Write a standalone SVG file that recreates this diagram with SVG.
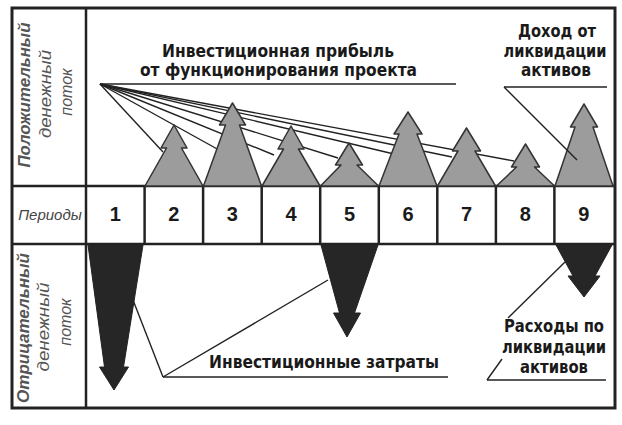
<svg xmlns="http://www.w3.org/2000/svg" width="622" height="425" viewBox="0 0 622 425">
<style>
.frame{fill:none;stroke:#222;stroke-width:3}
.grid{stroke:#222;stroke-width:2.5;fill:none}
.up{fill:#9c9c9c;stroke:#333;stroke-width:1.5;stroke-linejoin:round}
.down{fill:#262626;stroke:#222;stroke-width:1}
.lead{stroke:#222;stroke-width:1.4;fill:none}
.lbl{font-family:"Liberation Sans Narrow","DejaVu Sans Condensed","Liberation Sans",sans-serif;font-weight:bold;font-size:18px;fill:#1a1a1a;text-anchor:middle}
.num{font-family:"Liberation Sans",Arial,sans-serif;font-weight:bold;font-size:20px;fill:#1a1a1a;text-anchor:middle}
.side{font-family:"Liberation Sans",Arial,sans-serif;font-style:italic;font-size:16px;fill:#555;text-anchor:middle}
.per{font-family:"Liberation Sans",Arial,sans-serif;font-style:italic;font-size:15px;fill:#444;text-anchor:middle}
</style>
<rect width="622" height="425" fill="#fff"/>
<g id="frame">
<rect class="frame" x="12" y="8" width="603" height="400"/>
<line class="grid" x1="86" y1="8" x2="86" y2="408"/>
<line class="grid" x1="12" y1="186" x2="615" y2="186"/>
<line class="grid" x1="12" y1="244" x2="615" y2="244"/>
</g>
<g id="side-labels">
<g transform="translate(30,95) rotate(-90)"><text class="side" x="0" y="0" font-weight="bold" textLength="145" lengthAdjust="spacingAndGlyphs">Положительный</text></g>
<g transform="translate(51,94) rotate(-90)"><text class="side" x="0" y="0" textLength="88" lengthAdjust="spacingAndGlyphs">денежный</text></g>
<g transform="translate(72,92) rotate(-90)"><text class="side" x="0" y="0">поток</text></g>
<g transform="translate(29,328) rotate(-90)"><text class="side" x="0" y="0" font-weight="bold" textLength="150" lengthAdjust="spacingAndGlyphs">Отрицательный</text></g>
<g transform="translate(49,327) rotate(-90)"><text class="side" x="0" y="0" textLength="89" lengthAdjust="spacingAndGlyphs">денежный</text></g>
<g transform="translate(71,322) rotate(-90)"><text class="side" x="0" y="0">поток</text></g>
</g>
<g id="connectors">
<line class="lead" x1="100" y1="84" x2="456" y2="84"/>
<line class="lead" x1="100" y1="84" x2="163" y2="152"/>
<line class="lead" x1="100" y1="84" x2="219" y2="150"/>
<line class="lead" x1="100" y1="84" x2="274" y2="155"/>
<line class="lead" x1="100" y1="84" x2="338" y2="158"/>
<line class="lead" x1="100" y1="84" x2="394" y2="154"/>
<line class="lead" x1="100" y1="84" x2="452" y2="157"/>
<line class="lead" x1="100" y1="84" x2="514" y2="161"/>
</g>
<g id="periods">
<text class="per" x="50" y="220">Периоды</text>
<g class="grid">
<line x1="144.6" y1="186" x2="144.6" y2="244"/>
<line x1="203.1" y1="186" x2="203.1" y2="244"/>
<line x1="261.7" y1="186" x2="261.7" y2="244"/>
<line x1="320.2" y1="186" x2="320.2" y2="244"/>
<line x1="378.8" y1="186" x2="378.8" y2="244"/>
<line x1="437.3" y1="186" x2="437.3" y2="244"/>
<line x1="495.9" y1="186" x2="495.9" y2="244"/>
<line x1="554.4" y1="186" x2="554.4" y2="244"/>
</g>
<text class="num" x="115.3" y="221">1</text>
<text class="num" x="173.9" y="221">2</text>
<text class="num" x="232.4" y="221">3</text>
<text class="num" x="291" y="221">4</text>
<text class="num" x="349.5" y="221">5</text>
<text class="num" x="408" y="221">6</text>
<text class="num" x="466.6" y="221">7</text>
<text class="num" x="525.2" y="221">8</text>
<text class="num" x="583.7" y="221">9</text>
</g>
<g id="inflows">
<polygon class="up" points="145,186 166.5,148 161,148 174,125 187,148 181.5,148 203,186"/>
<polygon class="up" points="203.5,186 225.5,125 219.5,125 232.5,103 245.5,125 239.5,125 261.5,186"/>
<polygon class="up" points="262,186 283.5,149 278,149 291,126 304,149 298.5,149 320,186"/>
<polygon class="up" points="320.5,186 341,165 335.5,165 349,143 362.5,165 357,165 378.5,186"/>
<polygon class="up" points="379,186 399,134 394,134 408,112 422,134 417,134 437,186"/>
<polygon class="up" points="437.5,186 458,151 452.5,151 466.5,128 480.5,151 475,151 495.5,186"/>
<polygon class="up" points="496.5,186 516.5,167 511.5,167 525.5,144 539.5,167 534.5,167 554.5,186"/>
<polygon class="up" points="555,186 575,127 570.5,127 584,104 597.5,127 593,127 613,186"/>
</g>
<g id="outflows">
<polygon class="down" points="88,245 143,245 123.5,367 128.5,367 114,390 99.5,367 104.5,367"/>
<polygon class="down" points="321,245 378,245 354.5,313 360.5,313 347,337 333.5,313 339.5,313"/>
<polygon class="down" points="556,245 612,245 595,276 600,276 584,297 568,276 573,276"/>
</g>
<g id="label-income">
<text class="lbl" x="278" y="57" textLength="232" lengthAdjust="spacingAndGlyphs">Инвестиционная прибыль</text>
<text class="lbl" x="278.5" y="76" textLength="277" lengthAdjust="spacingAndGlyphs">от функционирования проекта</text>
</g>
<g id="label-liq-income">
<text class="lbl" x="557" y="37" textLength="78" lengthAdjust="spacingAndGlyphs">Доход от</text>
<text class="lbl" x="555" y="57" textLength="103" lengthAdjust="spacingAndGlyphs">ликвидации</text>
<text class="lbl" x="556" y="76" textLength="70" lengthAdjust="spacingAndGlyphs">активов</text>
<line class="lead" x1="504" y1="87" x2="607" y2="87"/>
<line class="lead" x1="504" y1="87" x2="577" y2="160"/>
</g>
<g id="label-invest">
<text class="lbl" x="324" y="368" textLength="230" lengthAdjust="spacingAndGlyphs">Инвестиционные затраты</text>
<line class="lead" x1="163" y1="377" x2="448" y2="377"/>
<line class="lead" x1="163" y1="377" x2="133" y2="300"/>
<line class="lead" x1="163" y1="377" x2="328" y2="280"/>
</g>
<g id="label-liq-cost">
<text class="lbl" x="554" y="332" textLength="100" lengthAdjust="spacingAndGlyphs">Расходы по</text>
<text class="lbl" x="554" y="353" textLength="104" lengthAdjust="spacingAndGlyphs">ликвидации</text>
<text class="lbl" x="554" y="373" textLength="68" lengthAdjust="spacingAndGlyphs">активов</text>
<line class="lead" x1="487" y1="380" x2="606" y2="380"/>
<line class="lead" x1="487" y1="380" x2="502" y2="359"/>
<line class="lead" x1="508" y1="318" x2="565" y2="262"/>
</g>
</svg>
